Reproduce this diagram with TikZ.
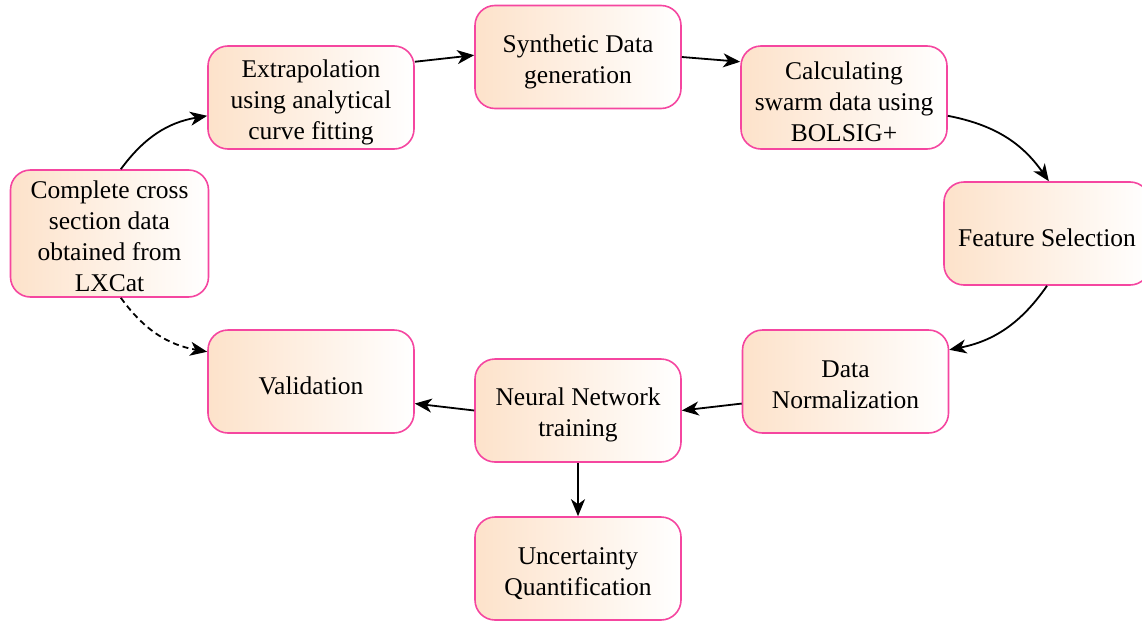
\documentclass[tikz,border=0pt]{standalone}
\usepackage{fontspec}
\setmainfont{Liberation Serif}
\usetikzlibrary{arrows.meta}
\definecolor{boxpink}{RGB}{245,70,160}
\definecolor{boxpeach}{RGB}{253,226,202}
\newcommand\firstline[1][27pt]{\rule{0pt}{#1}}
\tikzset{
  stage/.style={draw=boxpink, line width=1.6pt, rounded corners=20pt,
    left color=boxpeach, right color=white, align=center,
    minimum width=206pt, minimum height=103pt, inner sep=4pt,
    font=\fontsize{25.5}{31}\selectfont},
  oneline/.style={stage, execute at begin node={\rule{0pt}{26pt}}},
  flow/.style={-{Stealth[length=17pt,width=14pt,inset=5pt]}, line width=1.8pt},
  flowdash/.style={flow, dash pattern=on 6pt off 4pt}
}
\begin{document}
\begin{tikzpicture}[x=1pt,y=-1pt]
\useasboundingbox (0,0) rectangle (1142,621);
\node[stage, minimum width=198pt, minimum height=127pt] (c) at (109.5,233.5) {\firstline[23pt]Complete cross\\section data\\obtained from\\LXCat};
\node[stage] (e) at (311,97.5) {\firstline Extrapolation\\using analytical\\curve fitting};
\node[stage] (s) at (578,57) {\firstline Synthetic Data\\generation};
\node[stage] (k) at (844,97.5) {\firstline Calculating\\swarm data using\\BOLSIG+};
\node[oneline] (f) at (1047,233.5) {Feature Selection};
\node[stage] (d) at (845.5,381.5) {\firstline[24pt]Data\\Normalization};
\node[stage] (n) at (578,410.5) {\firstline Neural Network\\training};
\node[oneline] (v) at (311,381.5) {Validation};
\node[stage] (u) at (578,568.5) {\firstline Uncertainty\\Quantification};
\draw[flow] (c.80) to[bend left=22] (e.190);
\draw[flow] (e.19) -- (s.179);
\draw[flow] (s.0) -- (k.161);
\draw[flow] (k.350) to[bend left=22] (f.88);
\draw[flow] (f.270) to[bend left=22] (d.17);
\draw[flow] (d.192) -- (n.0);
\draw[flow] (n.180) -- (v.348);
\draw[flow] (n.south) -- (u.north);
\draw[flowdash] (c.280) to[bend right=22] (v.164);
\end{tikzpicture}
\end{document}
